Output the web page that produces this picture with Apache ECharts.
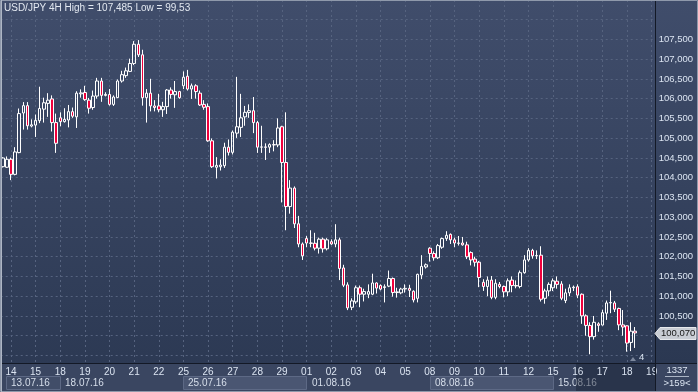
<!DOCTYPE html>
<html><head><meta charset="utf-8">
<script src="https://cdn.jsdelivr.net/npm/echarts@6/dist/echarts.min.js"></script>
<style>html,body{margin:0;padding:0;background:#2f3c57;}#c{width:698px;height:392px;}</style>
</head><body><div id="c"></div>
<script>
const titleText = 'USD/JPY 4H High = 107,485 Low = 99,53';
const days = ['13.07.16','14.07.16','15.07.16','18.07.16','19.07.16','20.07.16','21.07.16','22.07.16',
  '25.07.16','26.07.16','27.07.16','28.07.16','29.07.16','01.08.16','02.08.16','03.08.16','04.08.16','05.08.16',
  '08.08.16','09.08.16','10.08.16','11.08.16','12.08.16','15.08.16','16.08.16','17.08.16','18.08.16','19.08.16'];
const hourSlots = ['00:00','04:00','08:00','12:00','16:00','20:00'];
const firstSlot = 4;      // 13.07.16 16:00
const slotCount = 159;
const weekStarts = ['13.07.16','18.07.16','25.07.16','01.08.16','08.08.16','15.08.16'];
const lastPrice = 100.070;
const counterTop = '1337';
const counterBottom = '>159<';
const shiftMark = '4';

const open = [104.28,104.265,104.466,104.085,104.636,105.639,105.825,105.308,105.333,105.444,
105.736,105.882,105.995,105.396,105.517,105.420,105.461,105.673,105.541,106.124,
106.158,105.964,105.777,106.068,106.449,106.085,106.109,105.857,106.027,106.449,
106.585,106.692,106.893,107.379,107.112,106.027,106.141,105.818,105.818,105.721,
105.801,106.221,106.100,106.182,106.328,106.570,106.245,106.328,106.141,105.857,
105.801,104.935,104.265,104.279,104.304,104.774,104.643,105.129,105.275,105.541,
105.650,105.697,105.396,104.774,104.780,104.774,104.838,104.830,105.291,104.386,
103.270,103.738,102.833,102.323,102.459,102.347,102.340,102.216,102.444,102.200,
102.380,102.323,102.427,101.716,101.287,100.720,100.857,101.214,101.051,101.050,
101.051,101.335,101.270,101.220,101.255,101.449,101.093,101.085,101.182,101.200,
101.125,100.947,101.537,101.740,102.216,102.080,101.973,102.240,102.459,102.566,
102.427,102.347,102.347,102.300,102.105,101.940,101.860,101.352,101.246,101.408,
100.971,101.300,101.246,101.110,101.408,101.270,101.246,101.595,101.918,102.160,
102.022,102.039,100.947,101.134,101.214,101.380,101.310,100.890,101.085,101.214,
101.240,101.050,100.503,100.260,99.976,100.300,100.270,100.570,100.830,100.830,
100.690,100.274,100.250,99.830,100.115];
const high = [104.52,104.539,104.508,104.774,105.753,105.915,105.915,105.478,105.600,106.304,
106.027,106.141,106.085,105.624,105.656,105.760,105.842,105.777,106.190,106.238,
106.328,106.020,106.207,106.529,106.529,106.165,106.245,106.085,106.488,106.707,
106.789,107.015,107.459,107.485,107.240,106.245,106.505,105.964,106.124,105.922,
106.245,106.287,106.449,106.200,106.692,106.731,106.384,106.367,106.207,105.964,
105.882,104.993,104.522,104.466,104.886,104.969,105.194,106.554,106.124,105.818,
105.857,106.044,105.437,105.316,104.871,104.871,104.951,105.503,105.316,105.656,
103.939,103.780,103.034,102.362,102.525,102.670,102.605,102.483,102.483,102.470,
102.440,102.823,102.483,101.796,101.352,100.947,101.270,101.270,101.190,101.300,
101.570,101.352,101.300,101.300,101.650,101.473,101.214,101.214,101.300,101.290,
101.150,101.570,102.039,101.830,102.240,102.136,102.323,102.483,102.646,102.590,
102.483,102.525,102.500,102.380,102.136,102.000,101.893,101.430,101.500,101.512,
101.430,101.360,101.270,101.450,101.500,101.400,101.650,102.039,102.216,102.200,
102.160,102.265,101.190,101.350,101.450,101.500,101.380,101.190,101.300,101.270,
101.300,101.070,100.540,100.340,100.500,100.340,100.660,100.890,101.140,100.880,
100.710,100.650,100.260,100.340,100.220];
const low = [104.26,104.248,103.939,104.061,104.620,105.219,105.219,105.275,105.032,105.381,
105.396,105.541,105.170,104.629,105.304,105.396,105.275,105.517,105.260,106.027,
105.947,105.624,105.721,106.003,105.922,106.060,105.825,105.818,106.020,106.408,
106.529,106.675,106.852,107.056,105.825,105.396,105.680,105.680,105.656,105.541,
105.614,106.003,105.770,106.000,106.245,106.207,105.995,106.003,105.818,105.721,
104.910,104.248,103.981,104.182,104.248,104.563,104.588,105.008,105.032,105.316,
105.517,105.129,104.629,104.629,104.449,104.629,104.668,104.774,103.374,102.670,
103.090,102.726,102.240,101.918,102.240,102.240,102.160,102.080,102.105,102.160,
102.300,102.240,101.408,101.230,100.648,100.648,100.808,100.721,100.867,100.950,
101.027,101.068,101.150,100.843,101.230,100.988,100.964,101.050,101.090,100.980,
100.843,100.843,101.432,101.700,101.876,101.900,101.940,102.200,102.400,102.323,
102.240,102.283,102.280,101.940,101.780,101.750,101.230,101.134,101.000,100.923,
100.923,101.200,100.971,101.000,101.100,101.200,101.200,101.570,101.876,101.950,
101.940,100.866,100.810,101.000,101.130,101.190,100.900,100.825,101.000,101.130,
100.950,100.300,100.000,99.530,99.900,100.100,100.260,100.400,100.570,100.600,
100.140,100.000,99.595,99.610,99.690];
const close = [104.50,104.466,104.085,104.653,105.624,105.825,105.316,105.340,105.454,105.753,
105.898,105.964,105.396,104.872,105.420,105.478,105.673,105.558,106.141,106.148,
105.978,105.760,106.068,106.449,106.085,106.109,105.857,106.044,106.449,106.609,
106.707,106.893,107.379,107.112,106.027,106.141,105.818,105.777,105.721,105.801,
106.221,106.109,106.182,106.027,106.546,106.245,106.328,106.182,105.842,105.784,
104.935,104.279,104.313,104.321,104.774,104.643,105.153,105.291,105.517,105.656,
105.697,105.396,104.774,104.780,104.770,104.838,104.830,105.260,104.386,103.270,
103.738,102.833,102.323,102.022,102.347,102.340,102.216,102.444,102.200,102.427,
102.323,102.427,101.700,101.279,100.704,100.881,101.214,101.051,101.117,101.117,
101.335,101.206,101.180,101.240,101.449,101.093,101.110,101.182,101.200,101.149,
100.905,101.554,101.755,101.796,102.080,101.973,102.282,102.459,102.542,102.427,
102.347,102.340,102.300,101.998,101.918,101.860,101.474,101.246,101.408,100.971,
101.328,101.246,101.110,101.390,101.270,101.260,101.595,101.918,102.160,102.022,
102.030,100.923,101.134,101.300,101.390,101.300,100.947,101.085,101.214,101.230,
101.027,100.503,100.260,99.976,100.340,100.260,100.583,100.830,100.840,100.670,
100.274,100.220,99.813,100.115,100.070];

const yMin = 99, yMax = 108.5, yStep = 0.5, yLabelMin = 100.5, yLabelMax = 107.5;

const allSlots = [];
days.forEach(d => hourSlots.forEach(h => allSlots.push(d + ' ' + h)));
const categories = allSlots.slice(firstSlot, firstSlot + slotCount);
const candles = open.map((o, i) => [o, close[i], low[i], high[i]]);
const isDayStart = (idx) => categories[idx] && categories[idx].endsWith('00:00');

const FONT = '"Liberation Sans", Arial, sans-serif';
const chart = echarts.init(document.getElementById('c'), null, {renderer: 'canvas'});
const bgGrad = {type: 'linear', x: 0, y: 0, x2: 0, y2: 1, colorStops: [{offset: 0, color: '#404d6b'}, {offset: 1, color: '#2b3852'}]};

const option = {
  animation: false,
  backgroundColor: '#34415d',
  grid: {left: 0.7, right: 44.3, top: -16.2, bottom: 16.8},
  xAxis: [
    {type: 'category', data: categories, boundaryGap: true, position: 'top',
     axisLine: {show: false}, axisTick: {show: false}, axisLabel: {show: false},
     splitLine: {show: true, alignWithLabel: true, interval: (i) => isDayStart(i),
       lineStyle: {color: '#56637f', type: [2, 3], width: 1}}},
    {type: 'category', data: categories, boundaryGap: true, position: 'bottom', offset: -12.2, z: 4,
     axisLine: {show: false}, axisTick: {show: false}, splitLine: {show: false},
     axisLabel: {show: true, interval: (i) => isDayStart(i), formatter: (v) => v.slice(0, 2),
       color: '#dbe4f1', fontSize: 10, fontFamily: FONT, margin: 4, hideOverlap: false}}
  ],
  yAxis: [
    {type: 'value', min: yMin, max: yMax, interval: yStep, position: 'left', scale: true,
     axisLine: {show: false}, axisTick: {show: false}, axisLabel: {show: false},
     splitLine: {show: true, lineStyle: {color: '#56637f', type: [2, 3], width: 1}}},
    {type: 'value', min: yMin, max: yMax, interval: yStep, position: 'right', scale: true, z: 6,
     axisLine: {show: false}, axisTick: {show: false}, splitLine: {show: false},
     axisLabel: {show: true, margin: 5, color: '#dbe4f1', fontSize: 9.5, fontFamily: FONT,
       formatter: (v) => (v >= yLabelMin - 1e-6 && v <= yLabelMax + 1e-6) ? v.toFixed(3).replace('.', ',') : ''}}
  ],
  series: [{
    type: 'candlestick', xAxisIndex: 0, yAxisIndex: 0, data: candles, barWidth: 3, z: 2,
    itemStyle: {color: 'rgba(0,0,0,0)', color0: '#f0003c', borderColor: '#ffffff', borderColor0: '#ffffff',
      borderColorDoji: '#ffffff', borderWidth: 1}
  }],
  graphic: [
    {type: 'rect', z: -10, shape: {x: 0, y: 0, width: 698, height: 392}, style: {fill: bgGrad}, silent: true}
  ]
};
chart.setOption(option);

const px = (c) => chart.convertToPixel({xAxisIndex: 0}, c);
const py = (v) => chart.convertToPixel({yAxisIndex: 0}, v);
const g = [];
// panels
g.push({type: 'rect', z: 3, shape: {x: 0, y: 363, width: 698, height: 29}, style: {fill: '#3a4661'}, silent: true});
g.push({type: 'rect', z: 5, shape: {x: 655, y: 0, width: 43, height: 363}, style: {fill: bgGrad}, silent: true});
// week boxes
const weekX = weekStarts.map((w, i) => {
  const cat = categories.find(c => c.startsWith(w));
  return Math.max(px(cat), 6);
});
weekStarts.forEach((w, i) => {
  const x0 = weekX[i];
  const x1 = i + 1 < weekX.length ? weekX[i + 1] : 655;
  if (i % 2 === 0) {
    g.push({type: 'rect', z: 3.2, shape: {x: Math.round(x0) + 0.5, y: 376.5, width: Math.round(x1 - x0), height: 13},
      style: {fill: i === 0 ? '#414d68' : '#4a5672', stroke: '#5d6985', lineWidth: 1}, silent: true});
  }
  g.push({type: 'text', z: 3.4, style: {text: w, x: Math.round(x0) + 5, y: 383.5, fill: '#d6deea',
    fontSize: 10, fontFamily: FONT, verticalAlign: 'middle'}, silent: true});
});
// shifted region overlay
g.push({type: 'rect', z: 3.6, shape: {x: 576, y: 364, width: 79, height: 27}, style: {fill: 'rgba(22,30,48,0.45)'}, silent: true});
// axis lines
g.push({type: 'line', z: 6, shape: {x1: 0, y1: 363.5, x2: 698, y2: 363.5}, style: {stroke: '#131926', lineWidth: 1}, silent: true});
g.push({type: 'line', z: 6, shape: {x1: 655.5, y1: 0, x2: 655.5, y2: 392}, style: {stroke: '#131926', lineWidth: 1}, silent: true});
// counters
g.push({type: 'text', z: 6, style: {text: counterTop, x: 677, y: 370.5, fill: '#dbe4f1', fontSize: 9.5, fontFamily: FONT, align: 'center', verticalAlign: 'middle'}, silent: true});
g.push({type: 'line', z: 6, shape: {x1: 665, y1: 376.5, x2: 689, y2: 376.5}, style: {stroke: '#aab4c4', lineWidth: 1}, silent: true});
g.push({type: 'text', z: 6, style: {text: counterBottom, x: 677, y: 383, fill: '#dbe4f1', fontSize: 9.5, fontFamily: FONT, align: 'center', verticalAlign: 'middle'}, silent: true});
// shift marker
g.push({type: 'polygon', z: 4, shape: {points: [[630, 361], [636, 361], [633, 357]]}, style: {fill: '#7d889d'}, silent: true});
g.push({type: 'text', z: 4, style: {text: shiftMark, x: 639, y: 357.5, fill: '#dbe4f1', fontSize: 9.5, fontFamily: FONT, verticalAlign: 'middle'}, silent: true});
// last price tag
const ly = Math.round(py(lastPrice)) + 0.5;
g.push({type: 'polygon', z: 7, shape: {points: [[655, ly], [660, ly - 6], [696, ly - 6], [696, ly + 6], [660, ly + 6]]},
  style: {fill: '#c9cdd4', stroke: '#e6e8ec', lineWidth: 1}, silent: true});
g.push({type: 'text', z: 8, style: {text: lastPrice.toFixed(3).replace('.', ','), x: 661, y: ly, fill: '#151515',
  fontSize: 9.5, fontFamily: FONT, verticalAlign: 'middle'}, silent: true});
// title
g.push({type: 'text', z: 8, style: {text: titleText, x: 4, y: 8, fill: '#e3e9f1', fontSize: 10, fontFamily: FONT, verticalAlign: 'middle'}, silent: true});
// frame
g.push({type: 'rect', z: 9, shape: {x: 0.5, y: 0.5, width: 697, height: 391}, style: {fill: 'none', stroke: '#8f99ab', lineWidth: 1}, silent: true});
g.push({type: 'line', z: 9, shape: {x1: 1.5, y1: 0, x2: 1.5, y2: 392}, style: {stroke: '#aeb6c4', lineWidth: 1}, silent: true});

chart.setOption({graphic: option.graphic.concat(g)});
</script>
</body></html>
